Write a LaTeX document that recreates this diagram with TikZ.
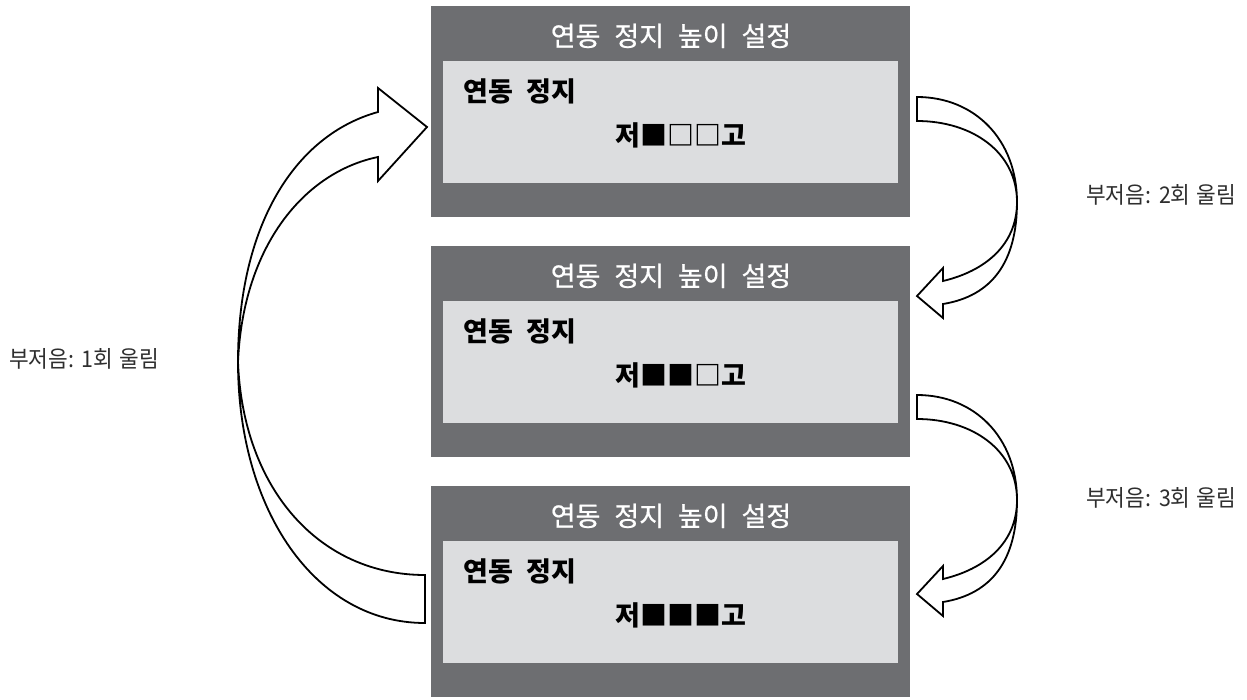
\documentclass[tikz,border=0pt]{standalone}
\usepackage{fontspec}
\newfontfamily\kr{Noto Sans CJK KR}
\newfontfamily\krlabel[WordSpace=2.2]{Noto Sans CJK KR}
\newfontfamily\krnarrow[FakeStretch=0.93, WordSpace=1.3]{Noto Sans CJK KR}
\newfontfamily\krtitle[WordSpace=2.3, FakeBold=0.6]{Noto Sans CJK KR}
\definecolor{boxdark}{HTML}{6D6E71}
\definecolor{boxlight}{HTML}{DCDDDF}
\definecolor{beepgray}{HTML}{2E2E2E}
\begin{document}
\begin{tikzpicture}[x=1pt,y=-1pt,
  outerbox/.style={fill=boxdark, draw=none, minimum width=479pt, minimum height=211pt, inner sep=0pt},
  innerbox/.style={fill=boxlight, draw=none, minimum width=455pt, minimum height=122pt, inner sep=0pt},
  titletext/.style={inner sep=0pt, anchor=base, text=white, font=\krtitle\fontsize{27}{30}\selectfont},
  labeltext/.style={inner sep=0pt, anchor=base west, text=black, font=\krlabel\bfseries\fontsize{27}{30}\selectfont},
  beeptext/.style={inner sep=0pt, anchor=base west, text=beepgray, font=\krnarrow\fontsize{23}{28}\selectfont},
  arrowshape/.style={draw=black, fill=white, line width=1.8pt, line join=miter}
]
\useasboundingbox[fill=white] (0,0) rectangle (1247,699);

% boxes
\foreach \i/\dy/\marks in {1/0/{■□□}, 2/240/{■■□}, 3/480/{■■■}}{
  \node[outerbox] (box\i) at (670.5,111.5+\dy) {};
  \node[innerbox] (panel\i) at (670.5,122+\dy) {};
  \node[titletext] (title\i) at (671,46+\dy) {연동 정지 높이 설정};
  \node[labeltext] (label\i) at (463.5,101+\dy) {연동 정지};
  \node[labeltext] (level\i) at (615.5,145.6+\dy) {저\marks 고};
}

% beep labels
\node[beeptext] (beep1) at (9,367.5) {부저음: 1회 울림};
\node[beeptext] (beep2) at (1086,203.5) {부저음: 2회 울림};
\node[beeptext] (beep3) at (1086,506.5) {부저음: 3회 울림};

% right curved arrows
\foreach \dy in {0,298}{
\begin{scope}[yshift=-\dy pt]
\draw[arrowshape] (917,97) -- (917,121)
  .. controls (972,121) and (1017,152) .. (1017,202)
  .. controls (1017,262) and (992,296) .. (943,304)
  -- (943,318) -- (917,296) -- (943,268) -- (943,281)
  .. controls (985,271) and (1017,245) .. (1017,202)
  .. controls (1017,140) and (975,97) .. (917,97) -- cycle;
\end{scope}
}

% left curved arrow
\draw[arrowshape] (425,623) -- (425,575)
  .. controls (320,575) and (243,490) .. (238,362)
  .. controls (243,245) and (305,172) .. (378,157)
  -- (378,181) -- (427,127) -- (378,88) -- (378,112)
  .. controls (295,135) and (238,225) .. (238,362)
  .. controls (238,510) and (315,623) .. (425,623) -- cycle;
\end{tikzpicture}
\end{document}
